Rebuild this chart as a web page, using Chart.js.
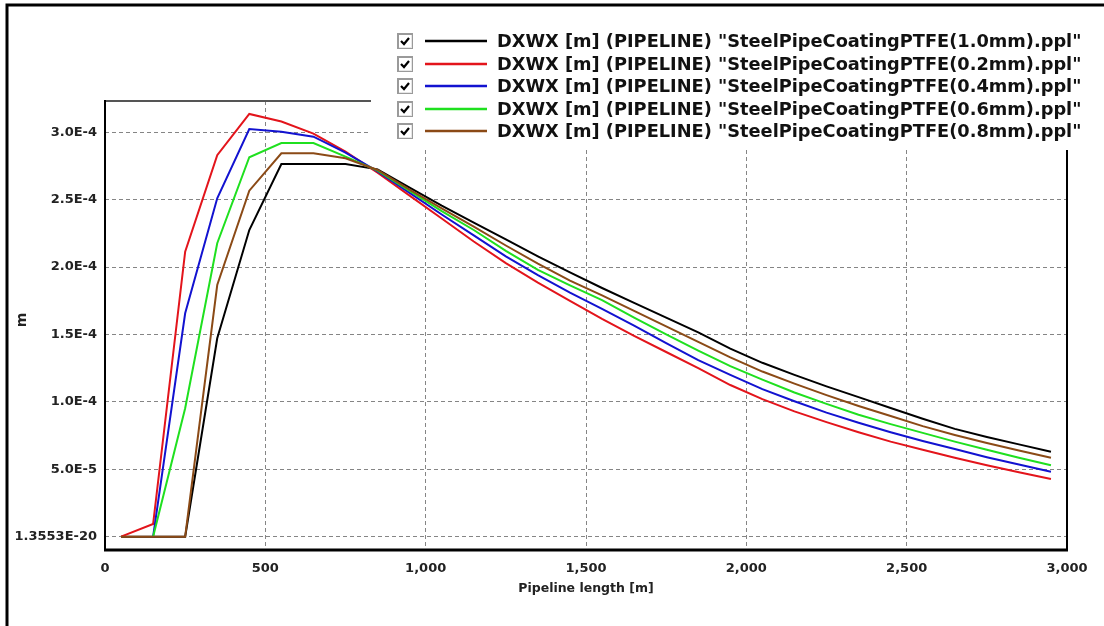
<!DOCTYPE html>
<html>
<head>
<meta charset="utf-8">
<script src="https://cdn.jsdelivr.net/npm/chart.js@4.4.1/dist/chart.umd.min.js"></script>
<style>
html,body{margin:0;padding:0;background:#fff;}
canvas{display:block;}
</style>
</head>
<body>
<canvas id="c" width="1104" height="626"></canvas>
<script>
// ---- data (y values in units of 1e-4 m) ----
const distances = [50,150,250,350,450,550,650,750,850,950,1050,1150,1250,1350,1450,1550,1650,1750,1850,1950,2050,2150,2250,2350,2450,2550,2650,2750,2850,2950];

const seriesLabels = [
  'DXWX [m] (PIPELINE) "SteelPipeCoatingPTFE(1.0mm).ppl"',
  'DXWX [m] (PIPELINE) "SteelPipeCoatingPTFE(0.2mm).ppl"',
  'DXWX [m] (PIPELINE) "SteelPipeCoatingPTFE(0.4mm).ppl"',
  'DXWX [m] (PIPELINE) "SteelPipeCoatingPTFE(0.6mm).ppl"',
  'DXWX [m] (PIPELINE) "SteelPipeCoatingPTFE(0.8mm).ppl"'
];

const coat10 = [0,0,0,1.472,2.275,2.765,2.765,2.765,2.725,2.59,2.455,2.33,2.205,2.08,1.96,1.845,1.735,1.625,1.515,1.395,1.29,1.2,1.115,1.035,0.955,0.875,0.80,0.74,0.685,0.63];
const coat02 = [0,0.094,2.114,2.83,3.136,3.08,2.99,2.856,2.70,2.53,2.36,2.19,2.03,1.885,1.75,1.615,1.49,1.37,1.25,1.125,1.02,0.93,0.85,0.775,0.705,0.645,0.585,0.53,0.478,0.428];
const coat04 = [null,0,1.657,2.51,3.024,3.004,2.967,2.849,2.71,2.55,2.39,2.235,2.08,1.94,1.81,1.69,1.565,1.435,1.31,1.2,1.095,1.005,0.92,0.845,0.775,0.71,0.65,0.59,0.535,0.482];
const coat06 = [null,0,0.953,2.177,2.815,2.92,2.92,2.819,2.715,2.565,2.415,2.275,2.12,1.98,1.865,1.755,1.625,1.50,1.38,1.265,1.165,1.07,0.985,0.905,0.835,0.77,0.705,0.645,0.585,0.53];
const coat08 = [0,0,0,1.867,2.567,2.844,2.844,2.807,2.72,2.575,2.435,2.30,2.16,2.025,1.90,1.79,1.675,1.56,1.445,1.33,1.225,1.135,1.05,0.97,0.895,0.82,0.755,0.695,0.64,0.586];

const seriesColors = ['#000000','#e3141b','#1212d0','#1fe01f','#8b4a16'];

const xTickValues = [0,500,1000,1500,2000,2500,3000];
const xTickLabels = ['0','500','1,000','1,500','2,000','2,500','3,000'];
const yTickValues = [0,0.5,1.0,1.5,2.0,2.5,3.0];
const yTickLabels = ['1.3553E-20','5.0E-5','1.0E-4','1.5E-4','2.0E-4','2.5E-4','3.0E-4'];

const xTitle = 'Pipeline length [m]';
const yTitle = 'm';

// ---- build datasets ----
const allSeries = [coat10, coat02, coat04, coat06, coat08];
const drawOrder = [4, 3, 2, 1, 0];
const datasets = allSeries.map((arr, i) => ({
  label: seriesLabels[i],
  data: distances.map((d, j) => ({x: d, y: arr[j]})),
  borderColor: seriesColors[i],
  backgroundColor: seriesColors[i],
  borderWidth: 2,
  pointRadius: 0,
  tension: 0,
  fill: false,
  spanGaps: false,
  order: drawOrder[i]
}));

const FONT = '"DejaVu Sans", "Liberation Sans", sans-serif';

const framePlugin = {
  id: 'frameAndLegend',
  afterDraw(chart) {
    const ctx = chart.ctx;
    const a = chart.chartArea;
    ctx.save();
    // outer frame
    ctx.strokeStyle = '#000';
    ctx.lineWidth = 3;
    ctx.beginPath();
    ctx.moveTo(7, 626); ctx.lineTo(7, 5); ctx.lineTo(1104, 5);
    ctx.stroke();
    // plot borders
    ctx.strokeStyle = '#555';
    ctx.lineWidth = 2;
    ctx.beginPath(); ctx.moveTo(a.left, a.top); ctx.lineTo(a.right, a.top); ctx.stroke();
    ctx.strokeStyle = '#000';
    ctx.beginPath(); ctx.moveTo(a.left, a.top - 1); ctx.lineTo(a.left, a.bottom); ctx.stroke();
    ctx.beginPath(); ctx.moveTo(a.right, a.top - 1); ctx.lineTo(a.right, a.bottom); ctx.stroke();
    ctx.lineWidth = 3;
    ctx.beginPath(); ctx.moveTo(a.left - 1, a.bottom); ctx.lineTo(a.right + 1, a.bottom); ctx.stroke();

    // axis titles
    ctx.fillStyle = '#222';
    ctx.font = 'bold 12.5px ' + FONT;
    ctx.textAlign = 'center';
    ctx.textBaseline = 'middle';
    ctx.fillText(xTitle, (a.left + a.right) / 2, 589);
    ctx.save();
    ctx.translate(22, 320);
    ctx.rotate(-Math.PI / 2);
    ctx.font = 'bold 14px ' + FONT;
    ctx.fillText(yTitle, 0, 0);
    ctx.restore();

    // legend box
    ctx.fillStyle = '#fff';
    ctx.fillRect(371, 8, 733, 142);
    ctx.font = 'bold 16px ' + FONT;
    const w = ctx.measureText(seriesLabels[0]).width;
    const size = 16 * 585 / w;
    ctx.font = 'bold ' + size.toFixed(2) + 'px ' + FONT;
    ctx.textAlign = 'left';
    ctx.textBaseline = 'middle';
    chart.data.datasets.forEach((ds, i) => {
      const cy = Math.round(41 + i * 22.5);
      // checkbox
      const bx = 397, by = cy - 8, bs = 16;
      ctx.fillStyle = '#9a9a9a';
      ctx.fillRect(bx, by, bs, bs);
      ctx.fillStyle = '#e6e6e6';
      ctx.fillRect(bx + 2, by + 2, bs - 3, bs - 3);
      ctx.fillStyle = '#fff';
      ctx.fillRect(bx + 2, by + 2, bs - 4, bs - 4);
      ctx.strokeStyle = '#000';
      ctx.lineWidth = 2.2;
      ctx.beginPath();
      ctx.moveTo(bx + 4, by + 8);
      ctx.lineTo(bx + 7, by + 11);
      ctx.lineTo(bx + 12, by + 5);
      ctx.stroke();
      // line sample
      ctx.strokeStyle = ds.borderColor;
      ctx.lineWidth = 2.5;
      ctx.beginPath();
      ctx.moveTo(425, cy); ctx.lineTo(487, cy);
      ctx.stroke();
      // text
      ctx.fillStyle = '#111';
      ctx.fillText(ds.label, 497, cy + 1);
    });
    ctx.restore();
  }
};

new Chart(document.getElementById('c'), {
  type: 'line',
  data: { datasets },
  options: {
    responsive: false,
    animation: false,
    devicePixelRatio: 1,
    events: [],
    layout: { padding: { left: 0, right: 37, top: 101, bottom: 0 } },
    plugins: { legend: { display: false }, tooltip: { enabled: false }, title: { display: false } },
    scales: {
      x: {
        type: 'linear',
        min: 0,
        max: 3000,
        afterFit(s) { s.height = 76; },
        afterBuildTicks(s) { s.ticks = xTickValues.map(v => ({ value: v })); },
        grid: { color: '#858585', lineWidth: 1, drawTicks: false },
        border: { display: false, dash: [4, 3] },
        ticks: {
          autoSkip: false, maxRotation: 0, padding: 11,
          color: '#222',
          font: { family: FONT, size: 13, weight: 'bold' },
          callback: (v, i) => xTickLabels[i]
        }
      },
      y: {
        type: 'linear',
        min: -0.0987,
        max: 3.232,
        afterFit(s) { s.width = 105; },
        afterBuildTicks(s) { s.ticks = yTickValues.map(v => ({ value: v })); },
        grid: { color: '#858585', lineWidth: 1, drawTicks: false },
        border: { display: false, dash: [4, 3] },
        ticks: {
          autoSkip: false, padding: 8,
          color: '#222',
          font: { family: FONT, size: 13, weight: 'bold' },
          callback: (v, i) => yTickLabels[i]
        }
      }
    }
  },
  plugins: [framePlugin]
});
</script>
</body>
</html>
